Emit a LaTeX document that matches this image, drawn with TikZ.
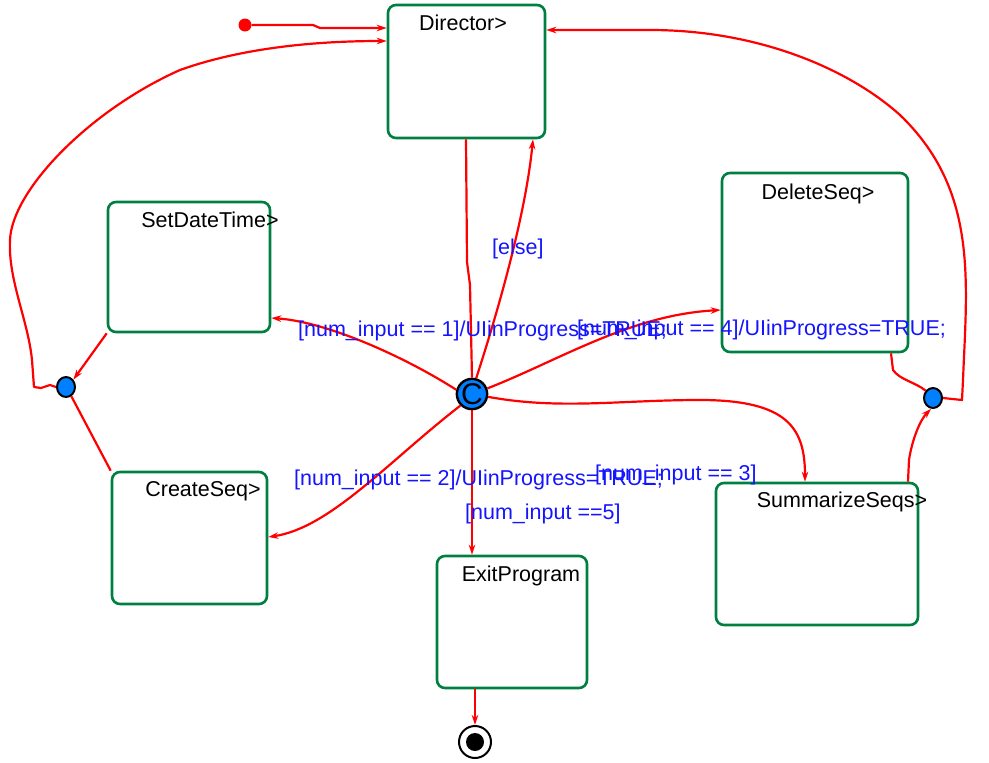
\documentclass[tikz,border=0pt]{standalone}
\usepackage{fontspec}
\setmainfont{Liberation Sans}
\usetikzlibrary{arrows.meta,shapes.geometric}
\definecolor{sgreen}{RGB}{0,128,64}
\definecolor{tred}{RGB}{255,0,0}
\definecolor{lblue}{RGB}{20,20,255}
\definecolor{cblue}{RGB}{0,128,255}
\begin{document}
\begin{tikzpicture}[x=1pt,y=-1pt,
  statebox/.style={draw=sgreen, line width=2.6pt, rounded corners=8pt, inner sep=0pt},
  stname/.style={font=\fontsize{21.5}{24}\selectfont, inner sep=0pt, text=black},
  guard/.style={font=\fontsize{21.5}{24}\selectfont, inner sep=0pt, text=lblue, anchor=west},
  tr/.style={draw=tred, line width=2.2pt, line join=round},
  tra/.style={tr, -{Stealth[length=10pt,width=6.5pt]}},
  junct/.style={ellipse, draw=black, line width=2pt, fill=cblue, minimum width=18pt, minimum height=20pt, inner sep=0pt}
]
\path[use as bounding box] (0,0) rectangle (989,763);

% states
\node[statebox, minimum width=157pt, minimum height=133pt] (dir) at (466.5,71.5) {};
\node[statebox, minimum width=162pt, minimum height=130pt] (sdt) at (189,267) {};
\node[statebox, minimum width=186pt, minimum height=179pt] (del) at (815,262.5) {};
\node[statebox, minimum width=202pt, minimum height=142pt] (sum) at (817,554) {};
\node[statebox, minimum width=155pt, minimum height=132pt] (cre) at (189.5,538) {};
\node[statebox, minimum width=150pt, minimum height=132pt] (exit) at (512,622) {};

\node[stname] (dirT) at (463,23) {Director>};
\node[stname] (sdtT) at (210,219.5) {SetDateTime>};
\node[stname] (delT) at (818,193.5) {DeleteSeq>};
\node[stname] (sumT) at (842,502) {SummarizeSeqs>};
\node[stname] (creT) at (203,491.5) {CreateSeq>};
\node[stname] (exitT) at (521,576) {ExitProgram};

% pseudo states
\node[circle, fill=tred, minimum width=13pt, inner sep=0pt] (st) at (245,25) {};
\node[circle, draw=black, line width=2.4pt, fill=cblue, minimum size=30pt, inner sep=0pt, font=\fontsize{30}{30}\selectfont] (ch) at (472,394) {C};
\node[junct] (lj) at (66,387) {};
\node[junct] (rj) at (933,398) {};
\node[circle, draw=black, line width=2pt, minimum size=32pt, inner sep=0pt] (fin) at (475,742) {};
\node[circle, fill=black, minimum size=18pt, inner sep=0pt] (finIn) at (fin.center) {};

% transitions
\draw[tra] (st.east) -- (313,25) -- (320,28) -- (dir.west |- 0,28);
\draw[tra] (lj.west) -- (50,385) -- (41,388) -- (34,387) -- (32,360)
   .. controls (28,320) and (8,280) .. (10,240)
   .. controls (12,190) and (90,110) .. (180,70)
   .. controls (250,45) and (330,41) .. (dir.west |- 0,41);
\draw[tra] (rj.east) -- (962,400) -- (963,380)
   .. controls (967,280) and (978,190) .. (900,115)
   .. controls (850,70) and (760,30) .. (650,30) -- (dir.east |- 0,30);
\draw[tr] (dir.south -| 466,0) -- (467,262) -- (470,285) -- (ch.north);
\draw[tra] (ch.75) .. controls (495,320) and (525,220) .. (dir.south -| 533,0);
\draw[tra] (ch.165) .. controls (410,360) and (330,322) .. (sdt.east |- 0,318);
\draw[tra] (ch.20) .. controls (560,360) and (630,315) .. (del.west |- 0,310);
\draw[tra] (ch.-10) .. controls (560,410) and (620,400) .. (700,400)
   .. controls (790,400) and (805,430) .. (sum.north -| 805,0);
\draw[tra] (ch.-135) .. controls (390,460) and (330,528) .. (cre.east |- 0,537);
\draw[tra] (ch.south) -- (ch.south |- exit.north);
\draw[tra] (sdt.south west) -- (lj.45);
\draw[tr] (cre.north west) -- (lj.-60);
\draw[tr] (del.south -| 891,0) -- (893,370) .. controls (900,380) and (915,382) .. (rj.135);
\draw[tra] (sum.north -| 908,0) -- (909,460) .. controls (912,440) and (920,420) .. (rj.-100);
\draw[tra] (exit.south -| fin.north) -- (fin.north);

% guards
\node[guard] (gElse) at (492,249) {[else]};
\node[guard] (g1) at (298,331) {[num\_input == 1]/UIinProgress=TRUE;};
\node[guard] (g4) at (577,330) {[num\_input == 4]/UIinProgress=TRUE;};
\node[guard] (g2) at (294,480) {[num\_input == 2]/UIinProgress=TRUE;};
\node[guard] (g3) at (595,475) {[num\_input == 3]};
\node[guard] (g5) at (465,514) {[num\_input ==5]};
\end{tikzpicture}
\end{document}
